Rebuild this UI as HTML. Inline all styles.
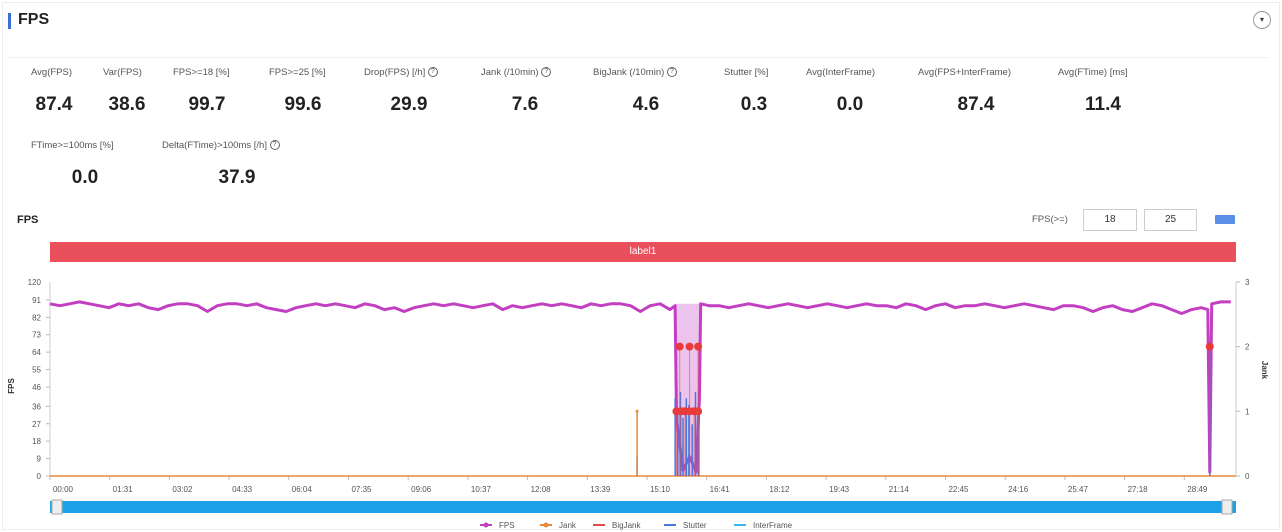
<!DOCTYPE html>
<html><head><meta charset="utf-8"><style>
body{margin:0;width:1282px;height:532px;background:#fff;font-family:"Liberation Sans",sans-serif;overflow:hidden;position:relative}
.abs{position:absolute}
.lab{position:absolute;font-size:9.5px;color:#555;white-space:nowrap}
.val{position:absolute;font-size:19px;font-weight:bold;color:#222;white-space:nowrap;transform:translateX(-50%)}
.q{display:inline-block;width:8px;height:8px;border:1px solid #666;border-radius:50%;font-size:7px;line-height:8px;text-align:center;vertical-align:middle}
</style></head><body>
<div class="abs" style="left:2px;top:2px;width:1276px;height:526px;border:1px solid #eee"></div>
<div class="abs" style="left:8px;top:13px;width:3px;height:16px;background:#3a6fd8"></div>
<div class="abs" style="left:18px;top:11px;font-size:16px;font-weight:bold;color:#222">FPS</div>
<div class="abs" style="left:1253px;top:11px;width:16px;height:16px;border:1px solid #999;border-radius:50%;font-size:8px;text-align:center;line-height:16px;color:#333">▾</div>
<div class="abs" style="left:8px;top:57px;width:1260px;height:1px;background:#eef0f4"></div>

<div class="lab" style="left:31px;top:67px">Avg(FPS)</div>
<div class="val" style="left:54px;top:94px">87.4</div>
<div class="lab" style="left:103px;top:67px">Var(FPS)</div>
<div class="val" style="left:127px;top:94px">38.6</div>
<div class="lab" style="left:173px;top:67px">FPS&gt;=18 [%]</div>
<div class="val" style="left:207px;top:94px">99.7</div>
<div class="lab" style="left:269px;top:67px">FPS&gt;=25 [%]</div>
<div class="val" style="left:303px;top:94px">99.6</div>
<div class="lab" style="left:364px;top:67px">Drop(FPS) [/h] <span class="q">?</span></div>
<div class="val" style="left:409px;top:94px">29.9</div>
<div class="lab" style="left:481px;top:67px">Jank (/10min) <span class="q">?</span></div>
<div class="val" style="left:525px;top:94px">7.6</div>
<div class="lab" style="left:593px;top:67px">BigJank (/10min) <span class="q">?</span></div>
<div class="val" style="left:646px;top:94px">4.6</div>
<div class="lab" style="left:724px;top:67px">Stutter [%]</div>
<div class="val" style="left:754px;top:94px">0.3</div>
<div class="lab" style="left:806px;top:67px">Avg(InterFrame)</div>
<div class="val" style="left:850px;top:94px">0.0</div>
<div class="lab" style="left:918px;top:67px">Avg(FPS+InterFrame)</div>
<div class="val" style="left:976px;top:94px">87.4</div>
<div class="lab" style="left:1058px;top:67px">Avg(FTime) [ms]</div>
<div class="val" style="left:1103px;top:94px">11.4</div>
<div class="lab" style="left:31px;top:140px">FTime&gt;=100ms [%]</div>
<div class="val" style="left:85px;top:167px">0.0</div>
<div class="lab" style="left:162px;top:140px">Delta(FTime)&gt;100ms [/h] <span class="q">?</span></div>
<div class="val" style="left:237px;top:167px">37.9</div>

<div class="abs" style="left:17px;top:214px;font-size:11px;font-weight:bold;color:#222">FPS</div>
<div class="lab" style="left:1032px;top:214px">FPS(&gt;=)</div>
<div class="abs" style="left:1083px;top:209px;width:52px;height:20px;border:1px solid #ccc;font-size:10px;text-align:center;line-height:20px;color:#333">18</div>
<div class="abs" style="left:1144px;top:209px;width:51px;height:20px;border:1px solid #ccc;font-size:10px;text-align:center;line-height:20px;color:#333">25</div>
<div class="abs" style="left:1215px;top:215px;width:20px;height:9px;background:#5b8fe6;border-radius:1px"></div>
<div class="abs" style="left:50px;top:242px;width:1186px;height:20px;background:#ea4f5c;color:#fff;font-size:10px;text-align:center;line-height:20px">label1</div>

<svg id="chart" class="abs" style="left:0;top:0" width="1282" height="532"></svg>

<script>
const fpsTimes=[0,15,30,45,60,75,90,105,120,135,150,165,180,195,210,225,240,255,270,285,300,315,330,345,360,375,390,405,420,435,450,465,480,495,510,525,540,555,570,585,600,615,630,645,660,675,690,705,720,735,750,765,780,795,810,825,840,855,870,885,900,915,930,945,953,955,965,975,985,990,992,1005,1020,1035,1050,1065,1080,1095,1110,1125,1140,1155,1170,1185,1200,1215,1230,1245,1260,1275,1290,1305,1320,1335,1350,1365,1380,1395,1410,1425,1440,1455,1470,1485,1500,1515,1530,1545,1560,1575,1590,1605,1620,1635,1650,1665,1680,1695,1710,1725,1740,1755,1765,1768,1771,1785,1800];
const fpsValues=[89,88,89,90,89,88,87,89,88,89,87,86,88,89,89,88,85,88,89,89,88,89,87,86,85,87,88,89,88,89,88,87,89,88,86,87,85,87,88,89,88,89,88,87,88,89,86,88,87,88,89,88,89,88,87,89,88,89,89,88,85,88,89,86,88,30,3,10,2,40,89,88,88,87,88,89,88,87,88,89,88,87,88,89,88,87,88,89,88,88,87,89,88,86,88,89,87,88,88,89,88,87,88,89,88,87,86,88,88,87,85,87,88,86,85,87,89,88,86,84,86,87,86,2,89,90,90];
const leftTicks=[0,9,18,27,36,46,55,64,73,82,91];
const leftTickLabels=["0","9","18","27","36","46","55","64","73","82","91"];
const rightTicks=[0,1,2,3];
const timeLabels=["00:00","01:31","03:02","04:33","06:04","07:35","09:06","10:37","12:08","13:39","15:10","16:41","18:12","19:43","21:14","22:45","24:16","25:47","27:18","28:49"];
const jankTimes=[895];
const jankValues=[1];
const bigJankTimes=[955,962,968,975,982,988,960,975,988,1768];
const bigJankValues=[1,1,1,1,1,1,2,2,2,2];
const stutterTimes=[895,953,957,961,965,970,974,979,984,989,1768];
const stutterValues=[0.3,1.2,1.0,1.3,0.9,1.2,1.1,0.8,1.3,1.0,2];

const X0=50,X1=1236,Y0=476,TMAX=1808;
const x=t=>X0+t/TMAX*(X1-X0);
const y=v=>Y0-v*1.935;
const yr=v=>Y0-v*64.7;
const svg=document.getElementById('chart');
function mk(tag,attrs,parent){const e=document.createElementNS('http://www.w3.org/2000/svg',tag);for(const k in attrs)e.setAttribute(k,attrs[k]);(parent||svg).appendChild(e);return e;}

let e=mk('line',{x1:X0,y1:282,x2:X0,y2:Y0,stroke:'#ccc'});

e=mk('line',{x1:X1,y1:282,x2:X1,y2:Y0,stroke:'#ccc'});

leftTicks.forEach((v,i)=>{
  mk('line',{x1:X0-4,y1:y(v),x2:X0,y2:y(v),stroke:'#bbb'});
  const t=mk('text',{x:X0-9,y:y(v)+3,'text-anchor':'end','font-size':8,fill:'#555'});
  t.textContent=leftTickLabels[i];
  
});
let t120=mk('text',{x:X0-9,y:285,'text-anchor':'end','font-size':8,fill:'#555'});t120.textContent='120';

rightTicks.forEach(v=>{
  mk('line',{x1:X1,y1:yr(v),x2:X1+4,y2:yr(v),stroke:'#bbb'});
  const t=mk('text',{x:X1+9,y:yr(v)+3,'font-size':8,fill:'#555'});
  t.textContent=v;
  
});
let yt=mk('text',{x:14,y:386,'font-size':8,'font-weight':'bold',fill:'#333',transform:'rotate(-90 14 386)','text-anchor':'middle'});yt.textContent='FPS';

let rt=mk('text',{x:1262,y:370,'font-size':8,'font-weight':'bold',fill:'#333',transform:'rotate(90 1262 370)','text-anchor':'middle'});rt.textContent='Jank';

timeLabels.forEach((l,i)=>{
  const tx=X0+i*59.7;
  mk('line',{x1:tx,y1:Y0,x2:tx,y2:Y0+4,stroke:'#bbb'});
  const t=mk('text',{x:tx+13,y:492,'text-anchor':'middle','font-size':8,fill:'#555'});
  t.textContent=l;
  
});

// spike fill
e=mk('rect',{x:x(953),y:y(89),width:x(991)-x(953),height:Y0-y(89),fill:'#d57ad5',opacity:0.45});

// FPS series
let pts=fpsValues.map((v,i)=>x(fpsTimes[i]).toFixed(1)+','+y(v).toFixed(1));
e=mk('polyline',{points:pts.join(' '),fill:'none',stroke:'#c23fc2','stroke-width':3,'stroke-linejoin':'round'});


e=mk('line',{x1:X0,y1:Y0,x2:X1,y2:Y0,stroke:'#e8893a','stroke-width':1.5});

stutterTimes.forEach((tt,i)=>{
  const s=mk('line',{x1:x(tt),y1:Y0,x2:x(tt),y2:yr(stutterValues[i]),stroke:'#4a78d8','stroke-width':1.5});
  
});
jankTimes.forEach((tt,i)=>{
  const s=mk('line',{x1:x(tt),y1:Y0,x2:x(tt),y2:yr(jankValues[i]),stroke:'#e8893a','stroke-width':1.5});
  
  mk('circle',{cx:x(tt),cy:yr(jankValues[i]),r:1.5,fill:'#e8893a'});
});
bigJankTimes.forEach((tt,i)=>{
  const s=mk('line',{x1:x(tt),y1:Y0,x2:x(tt),y2:yr(bigJankValues[i]),stroke:'#e84a4a','stroke-width':1,opacity:0.6});
  
  const c=mk('circle',{cx:x(tt),cy:yr(bigJankValues[i]),r:4,fill:'#e83a3a'});
  
});

e=mk('rect',{x:X0,y:501,width:X1-X0,height:12,fill:'#1ea0e6'});

e=mk('rect',{x:X0+2,y:500,width:10,height:14,fill:'#eee',stroke:'#aaa'});

e=mk('rect',{x:X1-14,y:500,width:10,height:14,fill:'#eee',stroke:'#aaa'});


const legNames=['FPS','Jank','BigJank','Stutter','InterFrame'];
const legColors=['#c23fc2','#e8893a','#e84a4a','#4a78d8','#37b8e8'];
const legX=[480,540,593,664,734];
legNames.forEach((n,i)=>{
  const g=mk('g',{});
  
  mk('line',{x1:legX[i],y1:525,x2:legX[i]+12,y2:525,stroke:legColors[i],'stroke-width':2},g);
  if(i<2)mk('circle',{cx:legX[i]+6,cy:525,r:2.5,fill:legColors[i]},g);
  const t=mk('text',{x:legX[i]+19,y:528,'font-size':8,fill:'#555'},g);t.textContent=n;
});
</script>
</body></html>
